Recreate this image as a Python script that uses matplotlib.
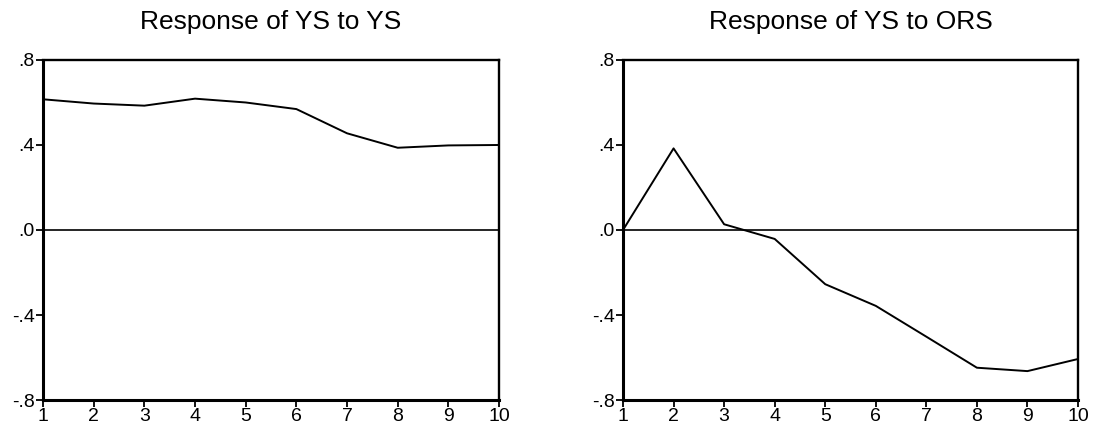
import matplotlib
matplotlib.use('Agg')
import matplotlib.pyplot as plt
from matplotlib.ticker import FuncFormatter

periods = [1, 2, 3, 4, 5, 6, 7, 8, 9, 10]
ys_to_ys = [0.615, 0.595, 0.585, 0.618, 0.600, 0.569, 0.455, 0.387, 0.398, 0.400]
ys_to_ors = [0.0, 0.384, 0.027, -0.042, -0.255, -0.357, -0.502, -0.648, -0.664, -0.607]
titles = ['Response of YS to YS', 'Response of YS to ORS']
yticks = [-0.8, -0.4, 0.0, 0.4, 0.8]

plt.rcParams['font.family'] = ['Liberation Sans', 'DejaVu Sans']

def fmt(v, pos):
    s = '%.1f' % v
    return s.replace('0.', '.')

fig = plt.figure(figsize=(10.98, 4.34), dpi=100)
boxes = [[0.0392, 0.0783, 0.4153, 0.7835], [0.5674, 0.0783, 0.4144, 0.7835]]

for box, title, vals in zip(boxes, titles, [ys_to_ys, ys_to_ors]):
    ax = fig.add_axes(box)
    ax.plot(periods, vals, color='black', lw=1.4)
    ax.axhline(0, color='black', lw=1.2)
    ax.set_xlim(1, 10)
    ax.set_ylim(-0.8, 0.8)
    ax.set_xticks(periods)
    ax.set_yticks(yticks)
    ax.yaxis.set_major_formatter(FuncFormatter(fmt))
    ax.tick_params(direction='out', length=5, width=1.3, labelsize=14, pad=1)
    for side in ['left', 'bottom']:
        ax.spines[side].set_linewidth(2.2)
    for side in ['top', 'right']:
        ax.spines[side].set_linewidth(1.7)
    ax.set_title(title, fontsize=19, pad=22)

fig.savefig('out.png', dpi=100)
